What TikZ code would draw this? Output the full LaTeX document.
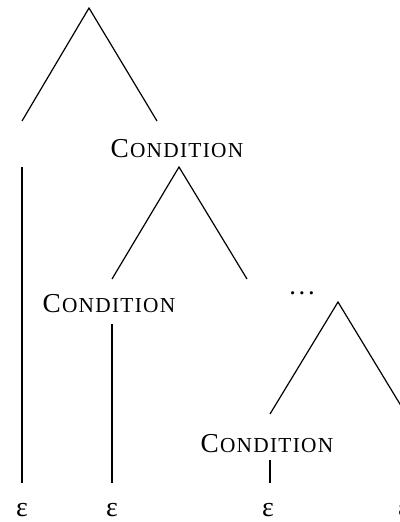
\documentclass[tikz,border=0pt]{standalone}
\usepackage{fontspec}
\setmainfont{Liberation Serif}
\newcommand{\condlabel}{{\fontsize{20.5}{22}\selectfont C\kern0.8pt}{\fontsize{16}{18}\selectfont\addfontfeature{LetterSpace=6}ONDITION}}
\begin{document}
\begin{tikzpicture}[x=0.75pt,y=-0.75pt,
  edge/.style={line width=0.9pt},
  cond/.style={inner sep=0pt,anchor=base},
  eps/.style={inner sep=0pt,anchor=base,font=\fontsize{21}{22}\selectfont}]
\useasboundingbox (0,0) rectangle (400,522);
% root
\coordinate (r) at (89,8);
\coordinate (rl) at (22,121);
\coordinate (rr) at (157,121);
\draw[edge] (rl) -- (r) -- (rr);
\node[cond] (c1) at (177,157) {\condlabel};
% left leaf
\coordinate (l1t) at (22,167);
\coordinate (l1b) at (22,483);
\draw[edge] (l1t) -- (l1b);
% subtree of c1
\coordinate (a1) at (179,167);
\coordinate (a1l) at (112,279);
\coordinate (a1r) at (247,279);
\draw[edge] (a1l) -- (a1) -- (a1r);
\node[cond] (c2) at (109,312) {\condlabel};
\coordinate (l2t) at (112,324);
\coordinate (l2b) at (112,483);
\draw[edge] (l2t) -- (l2b);
\node[inner sep=0pt,anchor=base,font=\fontsize{20}{22}\selectfont\addfontfeature{LetterSpace=10}] (dots) at (302,294) {...};
% subtree 3
\coordinate (a3) at (338,302);
\coordinate (a3l) at (270,414);
\coordinate (a3r) at (406,414);
\draw[edge] (a3l) -- (a3) -- (a3r);
\node[cond] (c3) at (267,452) {\condlabel};
\coordinate (l3t) at (270,460);
\coordinate (l3b) at (270,483);
\draw[edge] (l3t) -- (l3b);
% leaves
\node[eps] (e1) at (22,516) {ε};
\node[eps] (e2) at (112,516) {ε};
\node[eps] (e3) at (268,516) {ε};
\node[eps] (e4) at (404,516) {ε};
\end{tikzpicture}
\end{document}
